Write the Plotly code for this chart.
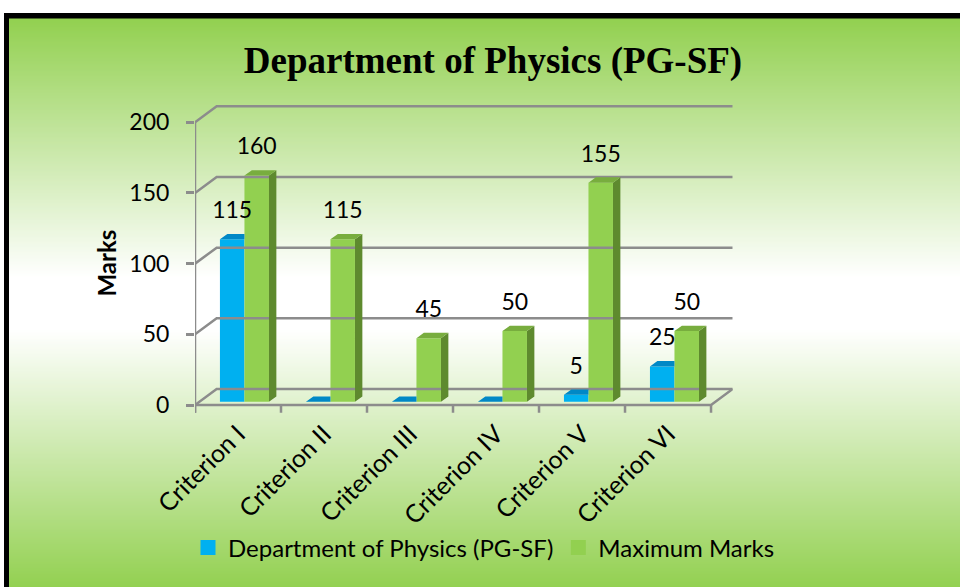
import plotly.graph_objects as go

# chart data
categories = ["Criterion I", "Criterion II", "Criterion III", "Criterion IV", "Criterion V", "Criterion VI"]
dept_marks = [115, 0, 0, 0, 5, 25]
max_marks = [160, 115, 45, 50, 155, 50]
y_ticks = [0, 50, 100, 150, 200]

W, H = 960, 587
FONT = "Lato, Open Sans, sans-serif"
GRID = "#8C8C8C"

BLUE = dict(front="#00B0F0", top="#0088C6", side="#0077AD")
GREEN = dict(front="#92D050", top="#78AD3E", side="#5E8A2E")

# pseudo-3D geometry in data units
LIFT = 2.3        # bars stand a little behind the front floor edge
BAR_W = 0.285
SX, SY = 0.086, 3.75   # bar depth (side/top faces)
DX, DY = 0.252, 11.3   # back wall offset
TICK_DROP = 5.4


def px_x(p):
    return p / W


def px_y(p):
    return 1 - p / H


def mix(c1, c2, t):
    return "rgb({},{},{})".format(*[round(a + (b - a) * t) for a, b in zip(c1, c2)])


fig = go.Figure()

# --- walls and floor -------------------------------------------------------
n = len(categories)
wx, wy = [], []
for v in y_ticks:
    # back wall gridline + left wall diagonal
    wx += [0, DX, n + DX, None]
    wy += [v, v + DY, v + DY, None]
wx += [0, 0, None, 0, n, n + DX, None]
wy += [-TICK_DROP, y_ticks[-1], None, 0, 0, DY, None]
for i in range(n + 1):
    wx += [i, i, None]
    wy += [0, -TICK_DROP, None]
fig.add_trace(go.Scatter(x=wx, y=wy, mode="lines", line=dict(color=GRID, width=2.5),
                         hoverinfo="skip", showlegend=False))

# --- bars --------------------------------------------------------------------
blue_left = [i + 0.29 for i in range(n)]
green_left = [x + BAR_W for x in blue_left]

fig.add_trace(go.Bar(x=[x + BAR_W / 2 for x in blue_left], y=dept_marks, base=LIFT, width=BAR_W,
                     marker=dict(color=BLUE["front"], line=dict(width=0)), showlegend=False,
                     name="Department of Physics (PG-SF)"))
fig.add_trace(go.Bar(x=[x + BAR_W / 2 for x in green_left], y=max_marks, base=LIFT, width=BAR_W,
                     marker=dict(color=GREEN["front"], line=dict(width=0)), showlegend=False,
                     name="Maximum Marks"))

# top faces of blue bars (the part behind the green bar is hidden)
tx, ty = [], []
for xl, v in zip(blue_left, dept_marks):
    t = LIFT + v
    tx += [xl, xl + SX, xl + BAR_W, xl + BAR_W, xl, None]
    ty += [t, t + SY, t + SY, t, t, None]
fig.add_trace(go.Scatter(x=tx, y=ty, mode="lines", fill="toself", fillcolor=BLUE["top"],
                         line=dict(width=0, color=BLUE["top"]), hoverinfo="skip", showlegend=False))

# side and top faces of green bars
sx_, sy_, gx, gy = [], [], [], []
for xl, v in zip(green_left, max_marks):
    t = LIFT + v
    xr = xl + BAR_W
    sx_ += [xr, xr + SX, xr + SX, xr, xr, None]
    sy_ += [LIFT, LIFT + SY, t + SY, t, LIFT, None]
    gx += [xl, xl + SX, xr + SX, xr, xl, None]
    gy += [t, t + SY, t + SY, t, t, None]
fig.add_trace(go.Scatter(x=sx_, y=sy_, mode="lines", fill="toself", fillcolor=GREEN["side"],
                         line=dict(width=0, color=GREEN["side"]), hoverinfo="skip", showlegend=False))
fig.add_trace(go.Scatter(x=gx, y=gy, mode="lines", fill="toself", fillcolor=GREEN["top"],
                         line=dict(width=0, color=GREEN["top"]), hoverinfo="skip", showlegend=False))

# data labels (zeros are not labelled)
LABEL_UP = 19
for left, vals in ((blue_left, dept_marks), (green_left, max_marks)):
    fig.add_trace(go.Scatter(
        x=[x + BAR_W / 2 for x in left],
        y=[LIFT + v + LABEL_UP for v in vals],
        mode="text", text=[str(v) if v else "" for v in vals],
        textposition="middle center", textfont=dict(size=23, color="black", family=FONT),
        hoverinfo="skip", showlegend=False, cliponaxis=False))

# legend entries
for name, color in (("Department of Physics (PG-SF)", BLUE["front"]), ("Maximum Marks", GREEN["front"])):
    fig.add_trace(go.Scatter(x=[None], y=[None], mode="markers", name=name,
                             marker=dict(symbol="square", size=15, color=color)))

# --- background: black frame + green/white/green gradient ------------------
shapes = [dict(type="rect", xref="paper", yref="paper", x0=px_x(4), x1=1.01, y0=-0.01, y1=px_y(13),
               fillcolor="black", line=dict(width=0), layer="below")]
green_rgb, white_rgb = (146, 208, 80), (255, 255, 255)
top, bottom = 18.5, H + 2
mid = (top + bottom) / 2
step = 2
y = top
while y < bottom:
    yc = y + step / 2
    t = 1 - abs(yc - mid) / (mid - top)
    col = mix(green_rgb, white_rgb, min(max(t * 1.1, 0), 1))
    shapes.append(dict(type="rect", xref="paper", yref="paper", x0=px_x(9), x1=1.01,
                       y0=px_y(y + step + 0.6), y1=px_y(y), fillcolor=col,
                       line=dict(width=0), layer="below"))
    y += step

x_lo, x_hi = 0, n + DX
y_lo, y_hi = -6, 213
fig.update_layout(
    width=W, height=H,
    margin=dict(l=0, r=0, t=0, b=0, autoexpand=False),
    paper_bgcolor="white",
    plot_bgcolor="rgba(0,0,0,0)",
    barmode="overlay",
    shapes=shapes,
    font=dict(family=FONT, color="black", size=22),
    title=dict(text="<b>Department of Physics (PG-SF)</b>", x=px_x(493), y=px_y(60),
               xanchor="center", yanchor="middle", automargin=False,
               font=dict(family="Liberation Serif, Times New Roman, serif", size=37, color="black")),
    xaxis=dict(range=[x_lo, x_hi], domain=[px_x(195), px_x(732.7)], automargin=False,
               tickmode="array", tickvals=[i + 0.5 for i in range(n)], ticktext=categories,
               tickangle=-45, ticks="", showgrid=False, zeroline=False, showline=False,
               tickfont=dict(size=25, family=FONT)),
    yaxis=dict(range=[y_lo, y_hi], domain=[px_y(413.5), px_y(103.9)], automargin=False,
               tickmode="array", tickvals=y_ticks, ticks="outside", ticklen=8, tickwidth=2.5,
               tickcolor=GRID, showgrid=False, zeroline=False, showline=False,
               ticklabelstandoff=12, tickfont=dict(size=23, family=FONT)),
    legend=dict(orientation="h", x=px_x(484), y=px_y(548), xanchor="center", yanchor="middle",
                bgcolor="rgba(0,0,0,0)", itemsizing="trace", font=dict(size=24, family=FONT)),
    annotations=[dict(text="<b>Marks</b>", textangle=-90, xref="paper", yref="paper",
                      x=px_x(106), y=px_y(263.5), xanchor="center", yanchor="middle",
                      showarrow=False, font=dict(size=24, family=FONT))],
)

# the page's default body margin would push the fixed-size figure out of the window
fig.write_html("out.html", config={"displayModeBar": False},
               post_script="document.body.style.margin='0';document.body.style.overflow='hidden';")
